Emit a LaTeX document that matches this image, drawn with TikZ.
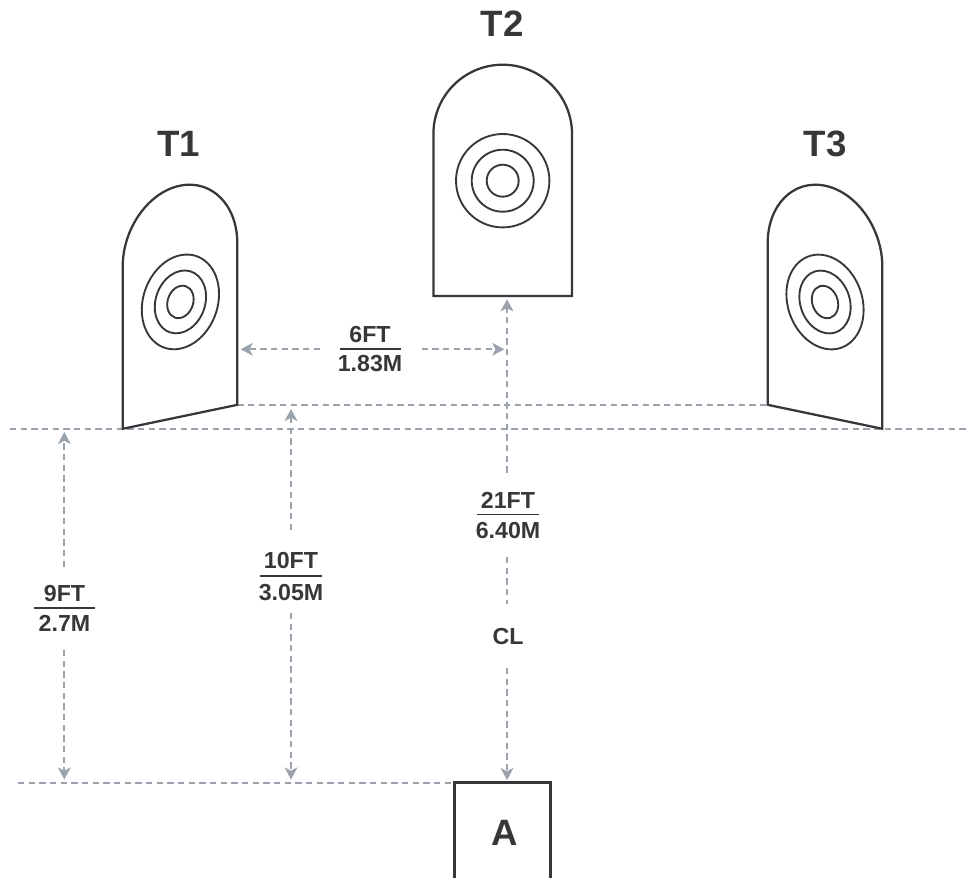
\documentclass[tikz,border=0pt]{standalone}
\usepackage{fontspec}
\setmainfont{Liberation Sans}
\usetikzlibrary{arrows.meta}
\definecolor{ink}{HTML}{363739}
\definecolor{dashc}{HTML}{9AA2AD}
\tikzset{
  x=0.75pt,y=-0.75pt,
  target/.style={draw=ink,line width=1.7pt,line join=miter},
  ring/.style={draw=ink,line width=1.4pt},
  guide/.style={draw=dashc,line width=1.5pt,dash pattern=on 4.8pt off 3.2pt},
  dim/.style={guide,-{Stealth[length=9pt,width=9.5pt,inset=2.4pt,fill=dashc]}},
  rulel/.style={draw=ink,line width=1.2pt},
  lab/.style={text=ink,font=\fontsize{17.4}{20}\selectfont\bfseries,inner sep=0pt,anchor=center},
  big/.style={text=ink,font=\fontsize{27.5}{30}\selectfont\bfseries,inner sep=0pt,anchor=center},
}
\begin{document}
\begin{tikzpicture}
\useasboundingbox (0,0) rectangle (966,878);
% named points
\coordinate (topL) at (10,429.3);
\coordinate (topR) at (966,429.3);
\coordinate (t1base) at (237.3,404.7);
\coordinate (t3base) at (767.3,404.7);
\coordinate (botL) at (18,782.7);
\coordinate (aTL) at (454.3,782.7);
\coordinate (aTR) at (550.3,782.7);
\coordinate (aBL) at (454.3,878);
\coordinate (aBR) at (550.3,878);
% guides
\draw[guide] (topL) -- (topR);
\draw[guide] (t1base) -- (t3base);
\draw[guide] (botL) -- (aTL);
% targets
\begin{scope}[cm={.827,.17,0,1,(180,255)}]
  \draw[target] (-69.3,0) arc[start angle=180,end angle=360,radius=69.3] -- (69.3,161.6) -- (-69.3,162) -- cycle;
  \draw[ring] (0.5,47) circle[radius=46.7];
  \draw[ring] (0.5,47) circle[radius=31];
  \draw[ring] (0.5,47) circle[radius=16];
\end{scope}
\begin{scope}[cm={.827,-.17,0,1,(825,255)}]
  \draw[target] (-69.3,0) arc[start angle=180,end angle=360,radius=69.3] -- (69.3,162) -- (-69.3,161.6) -- cycle;
  \draw[ring] (0,47) circle[radius=46.7];
  \draw[ring] (0,47) circle[radius=31];
  \draw[ring] (0,47) circle[radius=16];
\end{scope}
\begin{scope}[shift={(502.7,134)}]
  \draw[target] (-69.3,0) arc[start angle=180,end angle=360,radius=69.3] -- (69.3,162) -- (-69.3,162) -- cycle;
  \draw[ring] (0,46.7) circle[radius=46.7];
  \draw[ring] (0,46.7) circle[radius=31];
  \draw[ring] (0,46.7) circle[radius=16];
\end{scope}
% box A
\draw[draw=ink,line width=2.1pt] (aBL) -- (aTL) -- (aTR) -- (aBR);
\node[big] (lblA) at (505,832.5) {A};
% target titles
\node[big] (lblT1) at (178.5,143.5) {T1};
\node[big] (lblT2) at (502,23.5) {T2};
\node[big] (lblT3) at (825,143.5) {T3};
% dimension labels
\node[lab] (d6a) at (370,335) {6FT};
\node[lab] (d6b) at (370,364) {1.83M};
\draw[rulel] (339.5,349) -- (401,349);
\node[lab] (d21a) at (508,500.7) {21FT};
\node[lab] (d21b) at (508,530.7) {6.40M};
\draw[rulel] (477,514.3) -- (539,514.3);
\node[lab] (dCL) at (508,637) {CL};
\node[lab] (d9a) at (64.5,594) {9FT};
\node[lab] (d9b) at (64.5,623) {2.7M};
\draw[rulel] (33.7,607.7) -- (95.3,607.7);
\node[lab] (d10a) at (291,561) {10FT};
\node[lab] (d10b) at (291,592.7) {3.05M};
\draw[rulel] (260,575.7) -- (322,575.7);
% arrow ends
\coordinate (h6L) at (320,349.3);
\coordinate (h6Lt) at (240.7,349.3);
\coordinate (h6R) at (421.7,349.3);
\coordinate (h6Rt) at (504.3,349.3);
\coordinate (v21u) at (507,472.7);
\coordinate (v21t) at (507,299.3);
\coordinate (vm1) at (507,557);
\coordinate (vm2) at (507,604);
\coordinate (vcl) at (507,668);
\coordinate (vclt) at (507,780);
\coordinate (v9u) at (64.3,567);
\coordinate (v9ut) at (64.3,432);
\coordinate (v9d) at (64.3,650);
\coordinate (v9dt) at (64.3,779.5);
\coordinate (v10u) at (291,530);
\coordinate (v10ut) at (291,409);
\coordinate (v10d) at (291,613);
\coordinate (v10dt) at (291,779.5);
\draw[dim] (h6L) -- (h6Lt);
\draw[dim] (h6R) -- (h6Rt);
\draw[dim] (v21u) -- (v21t);
\draw[guide] (vm1) -- (vm2);
\draw[dim] (vcl) -- (vclt);
\draw[dim] (v9u) -- (v9ut);
\draw[dim] (v9d) -- (v9dt);
\draw[dim] (v10u) -- (v10ut);
\draw[dim] (v10d) -- (v10dt);
\end{tikzpicture}
\end{document}
